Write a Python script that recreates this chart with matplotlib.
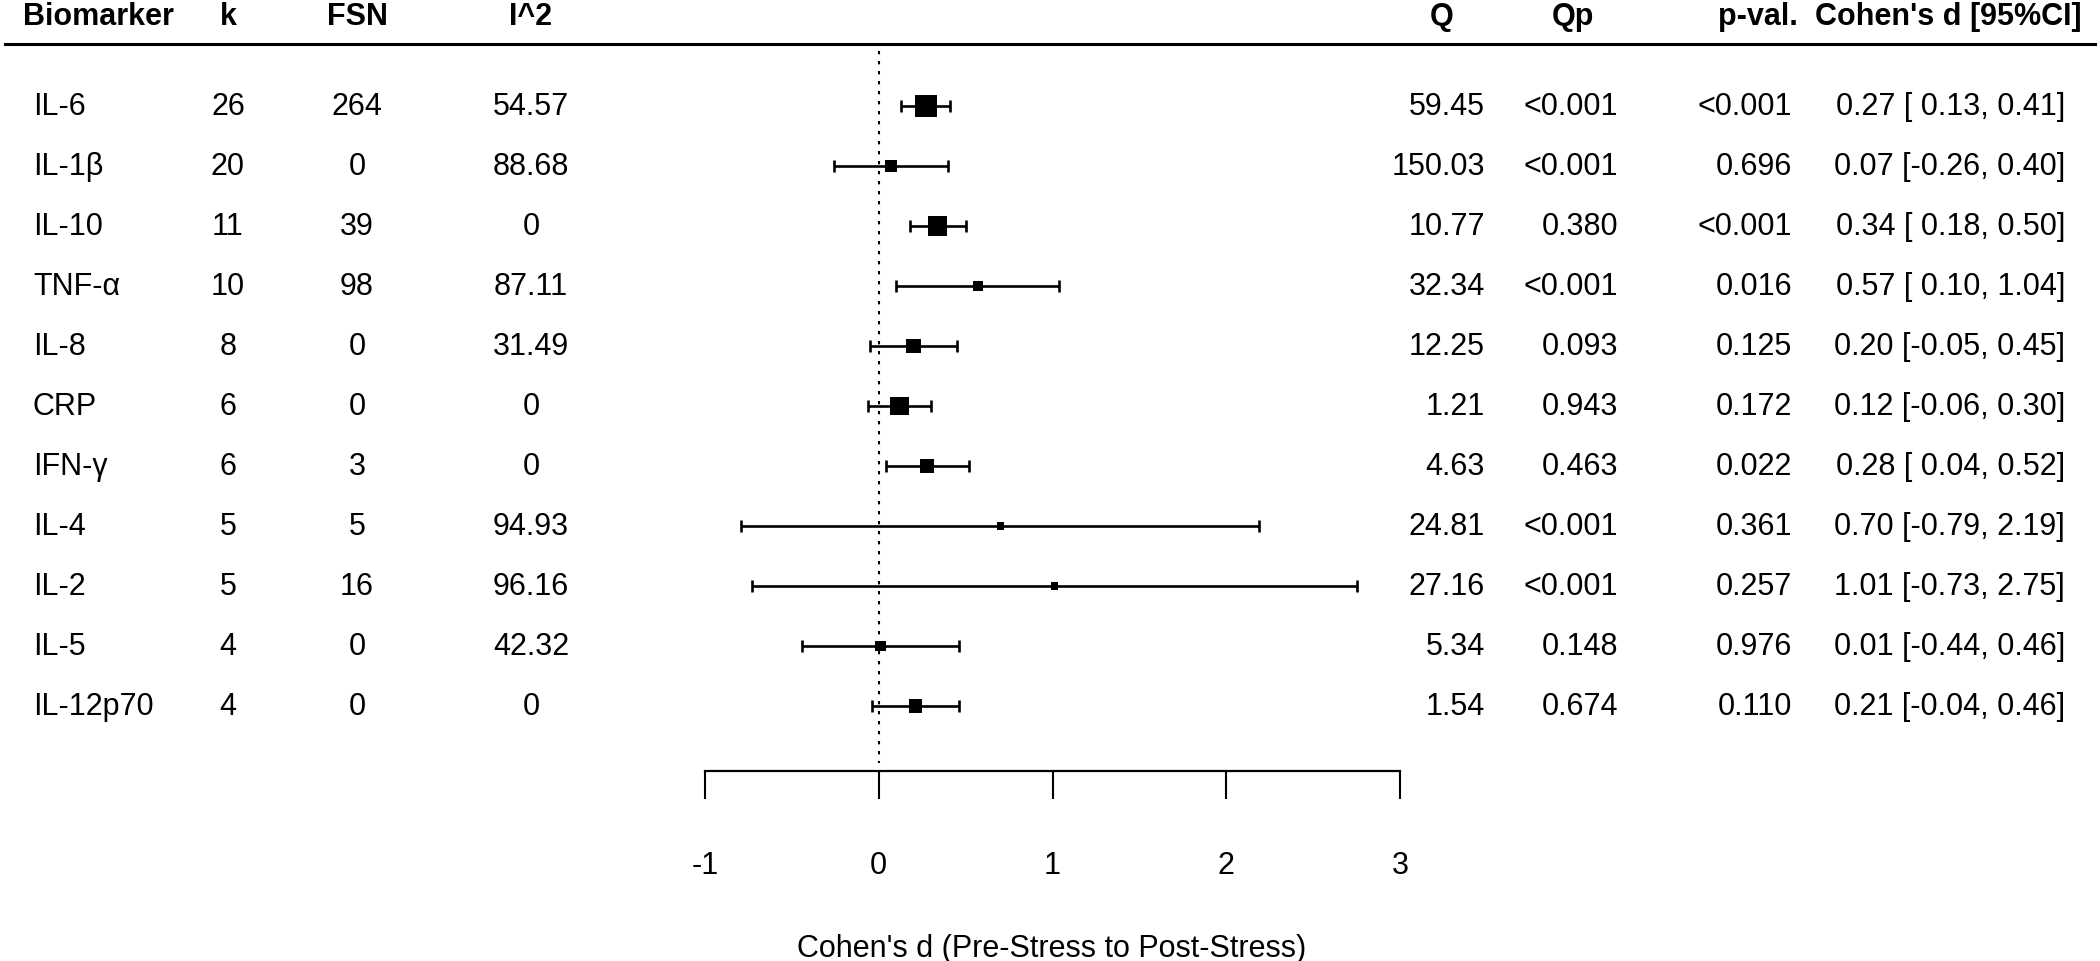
import matplotlib
matplotlib.use("Agg")
import matplotlib.pyplot as plt
import matplotlib.transforms as mtransforms
from matplotlib.lines import Line2D

plt.rcParams['font.family'] = ['Liberation Sans', 'DejaVu Sans']

# table data
markers = ["IL-6", "IL-1β", "IL-10", "TNF-α", "IL-8", "CRP", "IFN-γ",
           "IL-4", "IL-2", "IL-5", "IL-12p70"]
k = [26, 20, 11, 10, 8, 6, 6, 5, 5, 4, 4]
fsn = [264, 0, 39, 98, 0, 0, 3, 5, 16, 0, 0]
i2 = ["54.57", "88.68", "0", "87.11", "31.49", "0", "0", "94.93", "96.16", "42.32", "0"]
q = ["59.45", "150.03", "10.77", "32.34", "12.25", "1.21", "4.63", "24.81", "27.16", "5.34", "1.54"]
qp = ["<0.001", "<0.001", "0.380", "<0.001", "0.093", "0.943", "0.463",
      "<0.001", "<0.001", "0.148", "0.674"]
pval = ["<0.001", "0.696", "<0.001", "0.016", "0.125", "0.172", "0.022",
        "0.361", "0.257", "0.976", "0.110"]
d = [0.27, 0.07, 0.34, 0.57, 0.20, 0.12, 0.28, 0.70, 1.01, 0.01, 0.21]
lo = [0.13, -0.26, 0.18, 0.10, -0.05, -0.06, 0.04, -0.79, -0.73, -0.44, -0.04]
hi = [0.41, 0.40, 0.50, 1.04, 0.45, 0.30, 0.52, 2.19, 2.75, 0.46, 0.46]
# relative box weight (largest = 1)
weight = [1.0, 0.57, 0.87, 0.46, 0.64, 0.86, 0.64, 0.32, 0.32, 0.46, 0.60]

xticks = [-1, 0, 1, 2, 3]
headers = ["Biomarker", "k", "FSN", "I^2", "Q", "Qp", "p-val.", "Cohen's d [95%CI]"]

W, H = 2100, 962
FS = 22

fig = plt.figure(figsize=(W / 100, H / 100), dpi=100)

# forest axis: x -1..3 spans px 705..1400, y rows at px 107 + 60*i
ax = fig.add_axes([705 / W, 1 - 772 / H, (1400 - 705) / W, (772 - 45) / H])
ax.set_xlim(-1, 3)
ax.set_ylim((772 - 107) / 60, (45 - 107) / 60)

rows = list(range(len(markers)))

ax.plot([0, 0], [(52 - 107) / 60, (764 - 107) / 60], color='black',
        lw=1.5, linestyle=(0, (1.6, 3.2)), zorder=1)

xerr = [[di - l for di, l in zip(d, lo)], [h - di for di, h in zip(d, hi)]]
ax.errorbar(d, rows, xerr=xerr, fmt='none', ecolor='black', elinewidth=1.9,
            capsize=4, capthick=1.9, zorder=2)
sizes = [(w * 22 * 0.72) ** 2 for w in weight]
ax.scatter(d, rows, marker='s', s=sizes, color='black', linewidths=0, zorder=3)

for s in ['left', 'top', 'right']:
    ax.spines[s].set_visible(False)
ax.spines['bottom'].set_linewidth(1.6)
ax.set_yticks([])
ax.set_xticks(xticks)
ax.set_xticklabels([str(t) for t in xticks])
ax.tick_params(axis='x', direction='out', length=20, width=1.5, pad=37, labelsize=FS)
ax.patch.set_alpha(0)

fig.text(1052 / W, 1 - 949 / H, "Cohen's d (Pre-Stress to Post-Stress)",
         ha='center', va='center', fontsize=FS)

# text columns: x in figure px, y in row units
tr = mtransforms.blended_transform_factory(fig.transFigure, ax.transData)


def put(px, y, s, ha, bold=False):
    ax.text(px / W, y, s, transform=tr, ha=ha, va='center', fontsize=FS,
            fontweight='bold' if bold else 'normal', clip_on=False)


hy = (17 - 107) / 60
put(23, hy, headers[0], 'left', True)
put(228, hy, headers[1], 'center', True)
put(357, hy, headers[2], 'center', True)
put(531, hy, headers[3], 'center', True)
put(1442, hy, headers[4], 'center', True)
put(1573, hy, headers[5], 'center', True)
put(1798, hy, headers[6], 'right', True)
put(2082, hy, headers[7], 'right', True)

for i in rows:
    put(33, i, markers[i], 'left')
    put(228, i, str(k[i]), 'center')
    put(357, i, str(fsn[i]), 'center')
    put(531, i, i2[i], 'center')
    put(1485, i, q[i], 'right')
    put(1618, i, qp[i], 'right')
    put(1792, i, pval[i], 'right')
    put(2065, i, "%.2f [%5.2f, %.2f]" % (d[i], lo[i], hi[i]), 'right')

fig.add_artist(Line2D([5 / W, 2095 / W], [1 - 45 / H, 1 - 45 / H],
                      color='black', lw=2.2))

fig.savefig("out.png", dpi=100, facecolor='white')
